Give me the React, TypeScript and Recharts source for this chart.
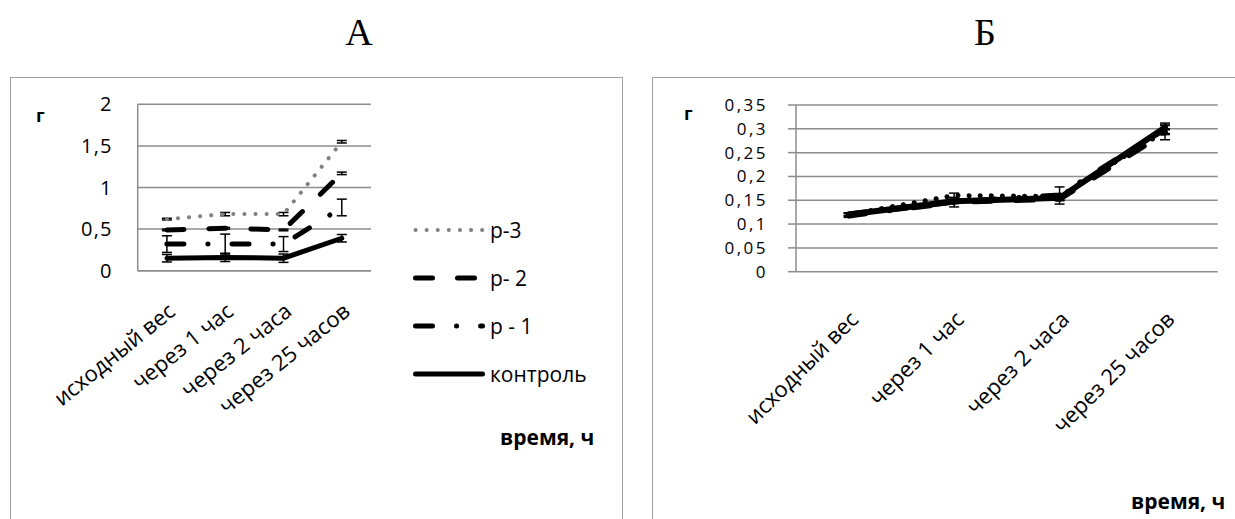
import { LineChart, Line, XAxis, YAxis, CartesianGrid, ErrorBar, Legend } from 'recharts';

const FONT = "'Open Sans', sans-serif";
const GRID = '#8c8c8c';

const categories = ['исходный вес', 'через 1 час', 'через 2 часа', 'через 25 часов'];

// panel А, g
const aP3 = [0.62, 0.68, 0.68, 1.55];
const aP2 = [0.49, 0.51, 0.49, 1.17];
const aP1 = [0.32, 0.32, 0.32, 0.76];
const aControl = [0.15, 0.16, 0.15, 0.39];
const aP3Err = [0.01, 0.02, 0.02, 0.015];
const aP2Err = [0.01, 0.01, 0.01, 0.015];
const aP1Err = [0.1, 0.12, 0.09, 0.1];
const aControlErr = [0.045, 0.05, 0.05, 0.045];
const aTicks = [0, 0.5, 1, 1.5, 2];

// panel Б, g
const bP3 = [0.12, 0.16, 0.158, 0.295];
const bP2 = [0.12, 0.147, 0.153, 0.292];
const bP1 = [0.118, 0.146, 0.16, 0.3];
const bControl = [0.12, 0.148, 0.155, 0.303];
const bP3Err = [0.003, 0.005, 0.005, 0.005];
const bP2Err = [0.003, 0.004, 0.004, 0.015];
const bP1Err = [0.004, 0.01, 0.018, 0.012];
const bControlErr = [0.003, 0.004, 0.005, 0.005];
const bTicks = [0, 0.05, 0.1, 0.15, 0.2, 0.25, 0.3, 0.35];
const bBounds = [0, 1, 2, 3, 4];

const series = [
  { key: 'p3', name: 'р-3', colorA: '#808080', dash: '0.1 11', width: 4 },
  { key: 'p2', name: 'р- 2', colorA: '#000', dash: '17 25', width: 5 },
  { key: 'p1', name: 'р - 1', colorA: '#000', dash: '17 24 0.1 24', width: 5 },
  { key: 'control', name: 'контроль', colorA: '#000', dash: undefined, width: 5 },
];

const rowsA = categories.map((cat, i) => ({
  cat,
  p3: aP3[i], p3Err: aP3Err[i],
  p2: aP2[i], p2Err: aP2Err[i],
  p1: aP1[i], p1Err: aP1Err[i],
  control: aControl[i], controlErr: aControlErr[i],
}));

const rowsB = categories.map((cat, i) => ({
  cat,
  p3: bP3[i], p3Err: bP3Err[i],
  p2: bP2[i], p2Err: bP2Err[i],
  p1: bP1[i], p1Err: bP1Err[i],
  control: bControl[i], controlErr: bControlErr[i],
}));

const comma = (v: number) => String(v).replace('.', ',');

function LegendRows() {
  return (
    <div>
      {series.map(s => (
        <div key={s.key} style={{ display: 'flex', alignItems: 'center', height: 48 }}>
          <svg width={72} height={12}>
            <line x1={2.5} y1={6} x2={69.5} y2={6} stroke={s.colorA} strokeWidth={s.width}
              strokeDasharray={s.dash} strokeLinecap="round" />
          </svg>
          <span style={{ marginLeft: 5, fontSize: 21, fontFamily: FONT, color: '#000' }}>{s.name}</span>
        </div>
      ))}
    </div>
  );
}

const label = (text: string, left: number, top: number, size: number) => (
  <div style={{
    position: 'absolute', left, top, fontSize: size, lineHeight: `${size}px`,
    fontWeight: 700, fontFamily: FONT, whiteSpace: 'nowrap', color: '#000',
  }}>{text}</div>
);

function PanelA() {
  // plot width 233.3, categories sit in the middle of four equal slots
  return (
    <LineChart width={613} height={442} data={rowsA} margin={{ top: 27.3, right: 252, bottom: 48.3, left: 0 }}>
      <CartesianGrid vertical={false} stroke={GRID} strokeWidth={1.5} />
      <XAxis dataKey="cat" height={200} interval={0} padding={{ left: 29.2, right: 29.2 }}
        axisLine={{ stroke: GRID, strokeWidth: 1.5 }}
        tickLine={false} tickSize={0} tickMargin={31} angle={-39} textAnchor="end"
        tick={{ fontSize: 22, fill: '#000', fontFamily: FONT }} />
      <YAxis width={127.7} domain={[0, 2]} ticks={aTicks} interval={0} tickFormatter={comma}
        axisLine={{ stroke: GRID, strokeWidth: 1.5 }} tickLine={false} tickSize={0} tickMargin={25}
        tick={{ fontSize: 20, fill: '#000', fontFamily: FONT, letterSpacing: 1.2 }} />
      <Legend layout="vertical" align="center" verticalAlign="middle"
        wrapperStyle={{ left: 403, top: 129 }} content={() => <LegendRows />} />
      {series.map(s => (
        <Line key={s.key} dataKey={s.key} name={s.name} type="linear" stroke={s.colorA}
          strokeWidth={s.width} strokeDasharray={s.dash} strokeLinecap="round"
          dot={false} activeDot={false} isAnimationActive={false}>
          <ErrorBar dataKey={`${s.key}Err`} width={5} stroke="#000" strokeWidth={1.5}
            direction="y" isAnimationActive={false} />
        </Line>
      ))}
    </LineChart>
  );
}

function PanelB() {
  // plot width 421.7
  return (
    <LineChart width={583} height={442} data={rowsB} margin={{ top: 28, right: 17.3, bottom: 47.3, left: 0 }}>
      <CartesianGrid vertical={false} stroke={GRID} strokeWidth={1.5} />
      {/* tick marks between categories */}
      <XAxis xAxisId={0} type="number" domain={[0, 4]} ticks={bBounds} interval={0} allowDataOverflow
        height={0} tickFormatter={() => ''} tickSize={7}
        tickLine={{ stroke: GRID, strokeWidth: 1.5 }} axisLine={{ stroke: GRID, strokeWidth: 1.5 }} />
      <XAxis xAxisId={1} dataKey="cat" height={200} interval={0} padding={{ left: 52.7, right: 52.7 }}
        axisLine={false} tickLine={false} tickSize={8} tickMargin={30} angle={-45} textAnchor="end"
        tick={{ fontSize: 22, fill: '#000', fontFamily: FONT }} />
      {/* plot frame, top and right */}
      <XAxis xAxisId={2} orientation="top" type="number" domain={[0, 1]} height={0}
        tick={false} tickLine={false} axisLine={{ stroke: '#000', strokeWidth: 2 }} />
      <YAxis yAxisId={0} width={144} domain={[0, 0.35]} ticks={bTicks} interval={0} tickFormatter={comma}
        tickSize={8} tickMargin={20} tickLine={{ stroke: GRID, strokeWidth: 1.5 }}
        axisLine={{ stroke: GRID, strokeWidth: 1.5 }}
        tick={{ fontSize: 17, fill: '#000', fontFamily: FONT, letterSpacing: 2.5 }} />
      <YAxis yAxisId={1} orientation="right" type="number" domain={[0, 1]} width={0}
        tick={false} tickLine={false} axisLine={{ stroke: '#000', strokeWidth: 2 }} />
      {series.map(s => (
        <Line key={s.key} xAxisId={1} yAxisId={0} dataKey={s.key} name={s.name} type="linear"
          stroke="#000" strokeWidth={s.width + 1} strokeDasharray={s.dash} strokeLinecap="round"
          dot={false} activeDot={false} isAnimationActive={false}>
          <ErrorBar dataKey={`${s.key}Err`} width={5} stroke="#000" strokeWidth={1.5}
            direction="y" isAnimationActive={false} />
        </Line>
      ))}
    </LineChart>
  );
}

export default function App() {
  return (
    <div style={{
      position: 'absolute', left: 0, top: 0, width: 1235, height: 519,
      overflow: 'hidden', background: '#fff',
    }}>
      <div style={{ position: 'absolute', left: 0, width: 718, top: 13, textAlign: 'center',
        fontFamily: "'Liberation Serif', serif", fontSize: 38, lineHeight: '38px' }}>А</div>
      <div style={{ position: 'absolute', left: 652, width: 666, top: 13, textAlign: 'center',
        fontFamily: "'Liberation Serif', serif", fontSize: 38, lineHeight: '38px' }}>Б</div>

      <div style={{ position: 'absolute', left: 10, top: 77, width: 613, height: 480,
        border: '1.5px solid #a0a0a0', boxSizing: 'border-box' }} />
      <div style={{ position: 'absolute', left: 652, top: 77, width: 620, height: 480,
        border: '1.5px solid #a0a0a0', boxSizing: 'border-box' }} />

      <div style={{ position: 'absolute', left: 10, top: 77 }}>
        <PanelA />
      </div>
      <div style={{ position: 'absolute', left: 652, top: 77 }}>
        <PanelB />
      </div>

      {label('г', 36, 106, 18)}
      {label('г', 684, 104, 18)}
      {label('время, ч', 500, 427, 21)}
      {label('время, ч', 1131, 491, 21)}
    </div>
  );
}
